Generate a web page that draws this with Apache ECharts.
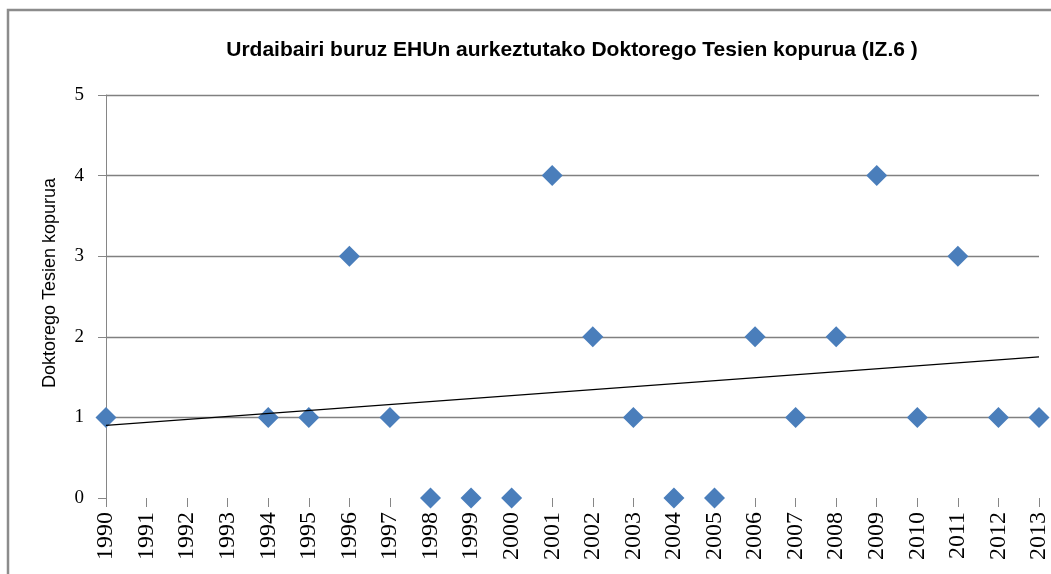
<!DOCTYPE html>
<html>
<head>
<meta charset="utf-8">
<script src="https://cdn.jsdelivr.net/npm/echarts@6/dist/echarts.min.js"></script>
<style>
  html, body { margin: 0; padding: 0; background: #fff; }
  #chart { width: 1051px; height: 574px; }
</style>
</head>
<body>
<div id="chart"></div>
<script>
// Years on the category axis
const years = ['1990','1991','1992','1993','1994','1995','1996','1997','1998','1999','2000','2001',
               '2002','2003','2004','2005','2006','2007','2008','2009','2010','2011','2012','2013'];
// Doctoral theses per year (null = no value recorded)
const theses = [1, null, null, null, 1, 1, 3, 1, 0, 0, 0, 4, 2, 1, 0, 0, 2, 1, 2, 4, 1, 3, 1, 1];
// Linear trend line: values at the first and last year
const trendEnds = [0.9, 1.75];
// Y axis ticks
const yTicks = [0, 1, 2, 3, 4, 5];

const trendData = years.map((y, i) =>
  i === 0 ? trendEnds[0] : (i === years.length - 1 ? trendEnds[1] : null));

const chart = echarts.init(document.getElementById('chart'), null, { renderer: 'canvas' });
chart.setOption({
  animation: false,
  backgroundColor: '#ffffff',
  graphic: [
    {
      type: 'rect',
      shape: { x: 8, y: 10, width: 1100, height: 600 },
      style: { fill: 'none', stroke: '#8c8c8c', lineWidth: 2.5 },
      silent: true
    },
    {
      // vertical axis title
      type: 'text',
      x: 50, y: 283, rotation: Math.PI / 2,
      style: {
        text: 'Doktorego Tesien kopurua',
        fontFamily: 'Liberation Sans', fontSize: 18, fill: '#000',
        align: 'center', verticalAlign: 'middle'
      },
      silent: true
    }
  ],
  title: {
    text: 'Urdaibairi buruz EHUn aurkeztutako Doktorego Tesien kopurua (IZ.6 )',
    left: 567, top: 35, textAlign: 'center',
    textStyle: { fontFamily: 'Liberation Sans', fontSize: 21, fontWeight: 'bold', color: '#000' }
  },
  grid: { left: 106, right: 12, top: 95, bottom: 76, containLabel: false },
  xAxis: {
    type: 'category',
    data: years,
    boundaryGap: false,
    axisLine: { show: false },
    axisTick: { show: true, length: 9, alignWithLabel: true, lineStyle: { color: '#868686', width: 1 } },
    axisLabel: {
      rotate: 90, interval: 0, margin: 14,
      fontFamily: 'Liberation Serif', fontSize: 24, color: '#000'
    },
    splitLine: { show: false }
  },
  yAxis: {
    type: 'value',
    min: yTicks[0], max: yTicks[yTicks.length - 1], interval: 1,
    axisLine: { show: true, lineStyle: { color: '#868686', width: 1 } },
    axisTick: { show: true, length: 8, lineStyle: { color: '#868686', width: 1 } },
    axisLabel: { margin: 22, fontFamily: 'Liberation Serif', fontSize: 19, color: '#000' },
    splitLine: {
      show: true,
      lineStyle: { color: '#808080', width: 1.3 },
      showMinLine: false
    }
  },
  series: [
    {
      name: 'Tesiak',
      type: 'scatter',
      data: theses,
      symbol: 'diamond',
      symbolSize: 21,
      itemStyle: { color: '#4a7ebb', opacity: 1 },
      z: 3
    },
    {
      name: 'Joera',
      type: 'line',
      data: trendData,
      connectNulls: true,
      showSymbol: false,
      symbol: 'none',
      lineStyle: { color: '#000', width: 1.2 },
      z: 4
    }
  ]
});
</script>
</body>
</html>
